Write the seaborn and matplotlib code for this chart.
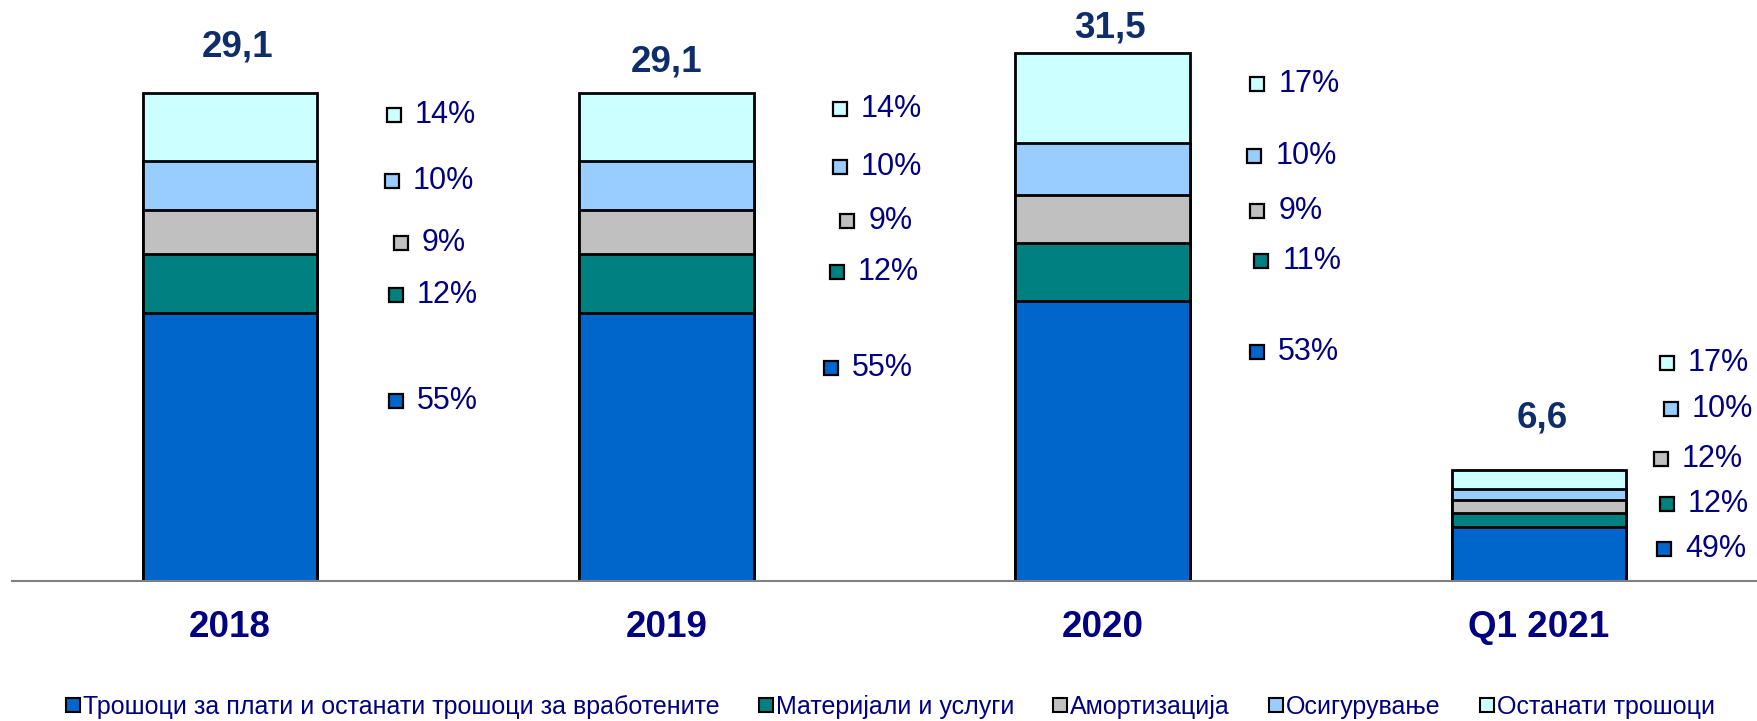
import numpy as np
import pandas as pd
import matplotlib
matplotlib.use("Agg")
import matplotlib.pyplot as plt
from matplotlib.lines import Line2D
from matplotlib import font_manager
import seaborn as sns

# data
categories = ["2018", "2019", "2020", "Q1 2021"]
totals = [29.1, 29.1, 31.5, 6.6]
total_labels = ["29,1", "29,1", "31,5", "6,6"]
series = ["Трошоци за плати и останати трошоци за вработените",
          "Материјали и услуги", "Амортизација", "Осигурување", "Останати трошоци"]
shares = {
    "Трошоци за плати и останати трошоци за вработените": [55, 55, 53, 49],
    "Материјали и услуги": [12, 12, 11, 12],
    "Амортизација": [9, 9, 9, 12],
    "Осигурување": [10, 10, 10, 10],
    "Останати трошоци": [14, 14, 17, 17],
}
colors = ["#0066CC", "#008080", "#C0C0C0", "#99CCFF", "#CCFFFF"]

# label layout (data coords), same order as series
label_dx = [[0.380, 0.378, 0.355, 0.287],
            [0.380, 0.390, 0.364, 0.293],
            [0.391, 0.415, 0.355, 0.280],
            [0.371, 0.397, 0.348, 0.302],
            [0.375, 0.397, 0.355, 0.293]]
label_y = [[10.73, 12.70, 13.66, 1.91],
           [17.05, 18.43, 19.08, 4.59],
           [20.15, 21.47, 22.06, 7.27],
           [23.85, 24.69, 25.34, 10.26],
           [27.79, 28.15, 29.64, 13.00]]
total_y = [31.84, 30.95, 32.98, 9.72]
total_dx = [0.018, 0.0, 0.016, 0.008]

sns.set_style("white")
plt.rcParams['font.family'] = ['Liberation Sans', 'DejaVu Sans']

# narrow face for the legend if there is one
installed = {f.name for f in font_manager.fontManager.ttflist}
narrow = 'Liberation Sans Narrow' if 'Liberation Sans Narrow' in installed else 'Liberation Sans'
legend_size = 20 if narrow == 'Liberation Sans Narrow' else 18

navy = "#000080"
fig = plt.figure(figsize=(17.57, 7.21), dpi=100, facecolor='w')
ax = fig.add_axes([12 / 1757, 140 / 721, 1745 / 1757, 581 / 721])

# stacked bars: draw cumulative heights from the top series down
seg = np.array([[t * s / 100 for t, s in zip(totals, shares[name])] for name in series])
cum = np.cumsum(seg, axis=0)
for i in range(len(series) - 1, -1, -1):
    df = pd.DataFrame({"cat": categories, "val": cum[i]})
    sns.barplot(data=df, x="cat", y="val", color=colors[i], saturation=1,
                width=0.4, edgecolor="black", linewidth=2, errorbar=None, ax=ax)

# share labels with little square keys
for i, name in enumerate(series):
    for j in range(len(categories)):
        x = j + label_dx[i][j]
        y = label_y[i][j]
        ax.plot(x, y, marker='s', markersize=10.5, markerfacecolor=colors[i],
                markeredgecolor='black', markeredgewidth=1.6, clip_on=False)
        ax.annotate(f"{shares[name][j]}%", (x, y), xytext=(15, 0),
                    textcoords='offset points', va='center', ha='left',
                    fontsize=22, color=navy, annotation_clip=False)

# totals
for j, lab in enumerate(total_labels):
    ax.text(j + total_dx[j], total_y[j], lab, ha='center', va='center',
            fontsize=26.5, fontweight='bold', color="#0F2D6B")

ax.set_xlim(-0.5, 3.5)
ax.set_ylim(0, 581 / 16.77)
ax.set_xlabel("")
ax.set_ylabel("")
ax.set_yticks([])
sns.despine(ax=ax, left=True)
ax.spines['bottom'].set_color('#808080')
ax.spines['bottom'].set_linewidth(1.5)
ax.set_xticks(range(len(categories)))
ax.set_xticklabels(categories, fontsize=26.5, fontweight='bold', color=navy)
ax.tick_params(axis='x', which='major', length=0, pad=21)
ax.set_xticks(np.arange(-0.5, 3.6, 1.0), minor=True)
ax.tick_params(axis='x', which='minor', length=7, width=1, color='#808080')

handles = [Line2D([], [], linestyle='none', marker='s', markersize=10,
                  markerfacecolor=c, markeredgecolor='black', markeredgewidth=1.5)
           for c in colors]
fig.legend(handles, series, loc='center', bbox_to_anchor=(0.507, 0.02), ncol=5,
           frameon=False, prop={'family': narrow, 'size': legend_size},
           labelcolor=navy, handlelength=0.5, handletextpad=0.15,
           columnspacing=1.6, borderaxespad=0)

fig.savefig("out.png", dpi=100, facecolor='w')
